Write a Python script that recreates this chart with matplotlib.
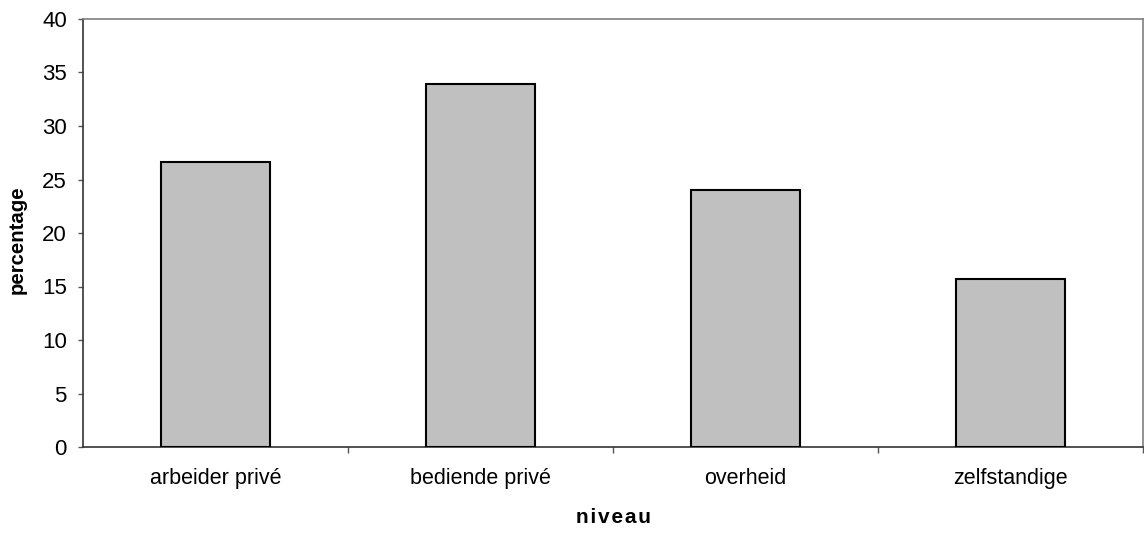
import matplotlib.pyplot as plt
import numpy as np

plt.rcParams['font.family'] = ['Liberation Sans', 'DejaVu Sans']

# data
categories = ['arbeider privé', 'bediende privé', 'overheid', 'zelfstandige']
percentages = [26.6, 33.9, 24.0, 15.7]

fig = plt.figure(figsize=(11.44, 5.33), dpi=100)
ax = fig.add_axes([83 / 1144, 86 / 533, 1060 / 1144, 428 / 533])

x = np.arange(len(categories))
ax.bar(x, percentages, width=0.41, color='#c0c0c0', edgecolor='black', linewidth=1.5, zorder=3)

ax.set_xlim(-0.5, len(categories) - 0.5)
ax.set_ylim(0, 40)
ax.set_yticks(range(0, 41, 5))
ax.tick_params(axis='y', labelsize=16, length=3.6, width=1, color='#555555', direction='out', pad=8)

# category labels centered, ticks on the boundaries
ax.set_xticks(x)
ax.set_xticklabels(categories, fontsize=15.5)
ax.tick_params(axis='x', length=0, pad=15)
ax.set_xticks(np.arange(0.5, len(categories), 1), minor=True)
ax.tick_params(axis='x', which='minor', length=4.3, width=1, color='#555555', direction='out')

for side in ['left', 'bottom']:
    ax.spines[side].set_color('#333333')
    ax.spines[side].set_linewidth(1.2)
for side in ['top', 'right']:
    ax.spines[side].set_color('#808080')
    ax.spines[side].set_linewidth(1.2)

ax.set_ylabel('percentage', fontsize=14.7, fontweight='bold')
ax.yaxis.set_label_coords(-0.0535, 0.485)
ax.set_xlabel('n i v e a u'.replace(' ', '\u200a'), fontsize=15, fontweight='bold', labelpad=14)

plt.savefig('out.png', dpi=100)
